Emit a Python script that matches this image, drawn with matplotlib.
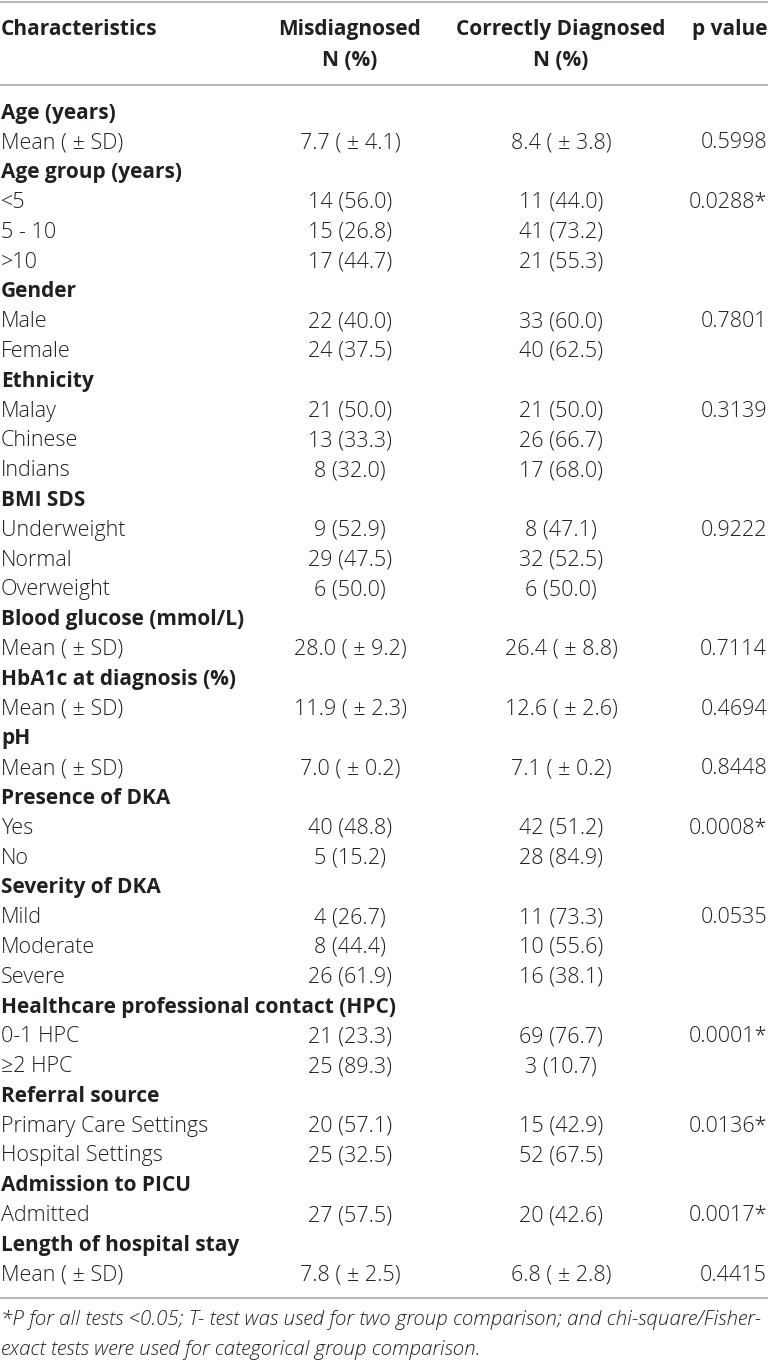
import matplotlib
matplotlib.use("Agg")
import matplotlib.pyplot as plt

#########################################################################
# table data

header_cols = ["Characteristics", "Misdiagnosed\nN (%)", "Correctly Diagnosed\nN (%)", "p value"]

row_labels = [
    "Age (years)", "Mean ( \u00b1 SD)",
    "Age group (years)", "<5", "5 - 10", ">10",
    "Gender", "Male", "Female",
    "Ethnicity", "Malay", "Chinese", "Indians",
    "BMI SDS", "Underweight", "Normal", "Overweight",
    "Blood glucose (mmol/L)", "Mean ( \u00b1 SD)",
    "HbA1c at diagnosis (%)", "Mean ( \u00b1 SD)",
    "pH", "Mean ( \u00b1 SD)",
    "Presence of DKA", "Yes", "No",
    "Severity of DKA", "Mild", "Moderate", "Severe",
    "Healthcare professional contact (HPC)", "0-1 HPC", "\u22652 HPC",
    "Referral source", "Primary Care Settings", "Hospital Settings",
    "Admission to PICU", "Admitted",
    "Length of hospital stay", "Mean ( \u00b1 SD)",
]

misdiagnosed = [
    "", "7.7 ( \u00b1 4.1)",
    "", "14 (56.0)", "15 (26.8)", "17 (44.7)",
    "", "22 (40.0)", "24 (37.5)",
    "", "21 (50.0)", "13 (33.3)", "8 (32.0)",
    "", "9 (52.9)", "29 (47.5)", "6 (50.0)",
    "", "28.0 ( \u00b1 9.2)",
    "", "11.9 ( \u00b1 2.3)",
    "", "7.0 ( \u00b1 0.2)",
    "", "40 (48.8)", "5 (15.2)",
    "", "4 (26.7)", "8 (44.4)", "26 (61.9)",
    "", "21 (23.3)", "25 (89.3)",
    "", "20 (57.1)", "25 (32.5)",
    "", "27 (57.5)",
    "", "7.8 ( \u00b1 2.5)",
]

correctly = [
    "", "8.4 ( \u00b1 3.8)",
    "", "11 (44.0)", "41 (73.2)", "21 (55.3)",
    "", "33 (60.0)", "40 (62.5)",
    "", "21 (50.0)", "26 (66.7)", "17 (68.0)",
    "", "8 (47.1)", "32 (52.5)", "6 (50.0)",
    "", "26.4 ( \u00b1 8.8)",
    "", "12.6 ( \u00b1 2.6)",
    "", "7.1 ( \u00b1 0.2)",
    "", "42 (51.2)", "28 (84.9)",
    "", "11 (73.3)", "10 (55.6)", "16 (38.1)",
    "", "69 (76.7)", "3 (10.7)",
    "", "15 (42.9)", "52 (67.5)",
    "", "20 (42.6)",
    "", "6.8 ( \u00b1 2.8)",
]

p_values = [
    "", "0.5998",
    "", "0.0288*", "", "",
    "", "0.7801", "",
    "", "0.3139", "", "",
    "", "0.9222", "", "",
    "", "0.7114",
    "", "0.4694",
    "", "0.8448",
    "", "0.0008*", "",
    "", "0.0535", "", "",
    "", "0.0001*", "",
    "", "0.0136*", "",
    "", "0.0017*",
    "", "0.4415",
]

footnote = ("*P for all tests <0.05; T- test was used for two group comparison; and chi-square/Fisher-\n"
            "exact tests were used for categorical group comparison.")

#########################################################################
# draw

W, H = 772, 1361
fig = plt.figure(figsize=(W / 100, H / 100), dpi=100)
ax = fig.add_axes([0, 0, 1, 1])
ax.set_xlim(0, W)
ax.set_ylim(H, 0)
ax.axis("off")

font = "Open Sans"
fs_bold = 15.0
fs_body = 15.5
fs_note = 14.8
txt_color = "#231f20"
line_color = "#a3a3a3"

x_label, x_mis, x_cor, x_p = 1, 350, 561, 767
y_first, step = 113, 29.8

# rules
for y in (1.5, 84.5, 1298):
    ax.plot([0, 768], [y, y], color=line_color, lw=1.1, solid_capstyle="butt")

# header
ax.text(x_label, 29, header_cols[0], ha="left", va="center", fontsize=fs_bold,
        fontweight="bold", family=font, color=txt_color)
ax.text(x_p, 29, header_cols[3], ha="right", va="center", fontsize=fs_bold,
        fontweight="bold", family=font, color=txt_color)
for x, lab in ((x_mis, header_cols[1]), (x_cor, header_cols[2])):
    top, bottom = lab.split("\n")
    ax.text(x, 29, top, ha="center", va="center", fontsize=fs_bold,
            fontweight="bold", family=font, color=txt_color)
    ax.text(x, 60, bottom, ha="center", va="center", fontsize=fs_bold,
            fontweight="bold", family=font, color=txt_color)

# body
for i, lab in enumerate(row_labels):
    y = y_first + i * step
    heading = misdiagnosed[i] == ""
    if heading:
        ax.text(x_label, y, lab, ha="left", va="center", fontsize=fs_bold,
                fontweight="bold", family=font, color=txt_color)
        continue
    ax.text(x_label, y, lab, ha="left", va="center", fontsize=fs_body,
            fontweight="light", family=font, color=txt_color)
    ax.text(x_mis, y, misdiagnosed[i], ha="center", va="center", fontsize=fs_body,
            fontweight="light", family=font, color=txt_color)
    ax.text(x_cor, y, correctly[i], ha="center", va="center", fontsize=fs_body,
            fontweight="light", family=font, color=txt_color)
    if p_values[i]:
        ax.text(x_p, y, p_values[i], ha="right", va="center", fontsize=fs_body,
                fontweight="light", family=font, color=txt_color)

# footnote
for k, line in enumerate(footnote.split("\n")):
    ax.text(x_label, 1320 + k * 30, line, ha="left", va="center", fontsize=fs_note,
            fontstyle="italic", fontweight="light", family=font, color=txt_color)

fig.savefig("out.png", dpi=100)
